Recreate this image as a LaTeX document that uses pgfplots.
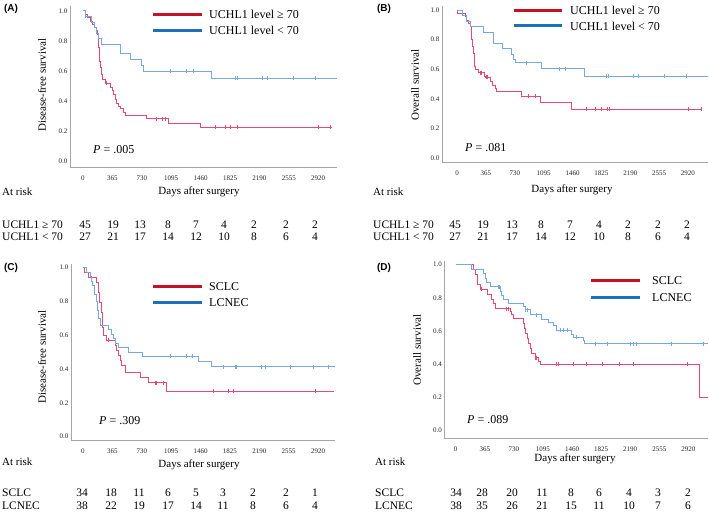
\documentclass[border=0pt]{standalone}
\usepackage{fontspec}
\setmainfont{Liberation Serif}
\newfontfamily\arial{Liberation Sans}
\usepackage{pgfplots}
\pgfplotsset{compat=1.18}

\definecolor{kmred}{RGB}{228,74,114}
\definecolor{kmblue}{RGB}{118,168,226}
\definecolor{legred}{RGB}{196,18,36}
\definecolor{legblue}{RGB}{30,112,186}

\pgfplotsset{
  km/.style={
    scale only axis,
    axis x line=bottom, axis y line=left,
    axis line style={-, gray!70, line width=0.6pt},
    major tick length=0pt,
    xtick={0,365,730,1095,1460,1825,2190,2555,2920},
    ytick={0,0.2,0.4,0.6,0.8,1.0},
    xticklabel style={/pgf/number format/1000 sep={}, yshift=-5pt},
    yticklabel style={/pgf/number format/fixed, /pgf/number format/fixed zerofill,
      /pgf/number format/precision=1, xshift=1pt},
    tick label style={font=\fontsize{7}{8}\selectfont, text=black!85},
    /pgf/number format/assume math mode=true,
    clip=false,
  },
  kmline/.style={const plot, line width=0.65pt, mark=none},
  cens/.style={only marks, mark=|, mark size=2pt, mark options={line width=0.5pt}},
}

\newcommand{\rowfont}{\fontsize{11.5}{13}\selectfont}
\newcommand{\lab}{\fontsize{11}{13}\selectfont}

\begin{document}
\begin{tikzpicture}[x=1pt,y=1pt]
\useasboundingbox (0,0) rectangle (709,514);

% ---------------- (A) disease-free survival, UCHL1
\begin{axis}[km, at={(70pt,347pt)}, anchor=south west, width=267pt, height=160.8pt,
  xmin=-161, xmax=3153, ymin=-0.035, ymax=1.03]
\addplot[kmline, kmred] coordinates {(0,1) (30,0.978) (60,0.956) (90,0.933) (115,0.911)
  (140,0.889) (160,0.867) (175,0.844) (185,0.8) (195,0.756) (200,0.711) (207,0.667)
  (215,0.622) (225,0.578) (235,0.545) (280,0.52) (335,0.495) (360,0.47) (377,0.445)
  (398,0.41) (420,0.385) (439,0.37) (460,0.355) (501,0.33) (522,0.31) (790,0.285)
  (1060,0.257) (1455,0.23) (3090,0.23)};
\addplot[cens, kmred] coordinates {(294,0.52) (915,0.285) (986,0.285) (1027,0.285)
  (1640,0.23) (1764,0.23) (1827,0.23) (1909,0.23) (1918,0.23) (2924,0.23) (3069,0.23)};
\addplot[kmline, kmblue] coordinates {(0,1) (25,0.963) (108,0.926) (141,0.889) (170,0.852)
  (190,0.815) (232,0.778) (460,0.717) (592,0.678) (729,0.64) (750,0.6) (1599,0.554)
  (3152,0.554)};
\addplot[cens, kmblue] coordinates {(30,0.963) (1081,0.6) (1288,0.6) (1363,0.6) (1889,0.554)
  (1909,0.554) (2220,0.554) (2282,0.554) (2605,0.554) (2883,0.554)};
\end{axis}

% ---------------- (B) overall survival, UCHL1
\begin{axis}[km, at={(442pt,352pt)}, anchor=south west, width=266pt, height=156.45pt,
  xmin=-190, xmax=3173, ymin=-0.025, ymax=1.03]
\addplot[kmline, kmred] coordinates {(0,1) (8,0.978) (100,0.956) (122,0.933) (143,0.911)
  (164,0.889) (175,0.844) (185,0.8) (195,0.756) (206,0.711) (215,0.667) (222,0.622)
  (228,0.6) (270,0.578) (340,0.556) (354,0.545) (417,0.52) (447,0.495) (480,0.47)
  (501,0.45) (817,0.42) (1049,0.38) (1441,0.33) (3093,0.33)};
\addplot[cens, kmred] coordinates {(290,0.578) (310,0.578) (365,0.545) (385,0.545)
  (902,0.42) (986,0.42) (1631,0.33) (1753,0.33) (1820,0.33) (1900,0.33) (1921,0.33)
  (2924,0.33) (3084,0.33)};
\addplot[kmline, kmblue] coordinates {(0,1) (67,0.963) (122,0.926) (164,0.889) (333,0.852)
  (459,0.778) (573,0.741) (691,0.704) (712,0.667) (733,0.645) (1070,0.605) (1610,0.555)
  (3177,0.555)};
\addplot[cens, kmblue] coordinates {(881,0.645) (1289,0.605) (1365,0.605) (1892,0.555)
  (1913,0.555) (2229,0.555) (2292,0.555) (2617,0.555) (2895,0.555)};
\end{axis}

% ---------------- (C) disease-free survival, histology
\begin{axis}[km, at={(71pt,73.9pt)}, anchor=south west, width=264pt, height=175.8pt,
  xmin=-149, xmax=3131, ymin=-0.02, ymax=1.02]
\addplot[kmline, kmred] coordinates {(0,1) (17,0.971) (66,0.941) (170,0.912) (185,0.882)
  (191,0.853) (198,0.824) (203,0.794) (225,0.765) (232,0.735) (238,0.706) (244,0.647)
  (253,0.6) (286,0.57) (398,0.54) (418,0.51) (439,0.48) (460,0.45) (480,0.42) (522,0.38)
  (708,0.35) (812,0.32) (1040,0.27) (3123,0.27)};
\addplot[cens, kmred] coordinates {(315,0.57) (895,0.32) (915,0.32) (998,0.32) (1619,0.27)
  (1806,0.27) (1868,0.27) (2883,0.27)};
\addplot[kmline, kmblue] coordinates {(0,1) (37,0.974) (87,0.947) (108,0.921) (120,0.895)
  (137,0.842) (170,0.8) (182,0.75) (195,0.7) (211,0.66) (315,0.635) (356,0.605) (377,0.58)
  (398,0.553) (439,0.53) (563,0.5) (741,0.475) (1433,0.445) (1599,0.415) (3131,0.415)};
\addplot[cens, kmblue] coordinates {(1081,0.475) (1288,0.475) (1363,0.475) (1744,0.415)
  (1889,0.415) (1909,0.415) (2220,0.415) (2261,0.415) (2580,0.415) (2862,0.415) (3048,0.415)};
\end{axis}

% ---------------- (D) overall survival, histology
\begin{axis}[km, at={(444.3pt,76pt)}, anchor=south west, width=263.7pt, height=176.6pt,
  xmin=-143, xmax=3167, ymin=-0.044, ymax=1.02]
\addplot[kmline, kmred] coordinates {(0,1) (222,0.971) (251,0.941) (270,0.912) (276,0.882)
  (305,0.853) (402,0.824) (452,0.794) (473,0.765) (494,0.735) (682,0.72) (695,0.70)
  (724,0.676) (849,0.645) (862,0.615) (879,0.585) (904,0.555) (912,0.525) (933,0.495)
  (954,0.465) (996,0.44) (1038,0.42) (1059,0.40) (3059,0.20) (3172,0.20)};
\addplot[cens, kmred] coordinates {(318,0.853) (640,0.735) (661,0.735) (1000,0.44) (1017,0.44)
  (1268,0.40) (1289,0.40) (1477,0.40) (1644,0.40) (1841,0.40) (2050,0.40) (2230,0.40)
  (2912,0.40)};
\addplot[kmline, kmblue] coordinates {(0,1) (201,0.974) (347,0.947) (377,0.921) (389,0.895)
  (431,0.868) (556,0.842) (569,0.816) (598,0.79) (661,0.77) (849,0.75) (870,0.73)
  (933,0.70) (1079,0.672) (1163,0.65) (1226,0.632) (1268,0.605) (1456,0.578) (1477,0.565)
  (1603,0.545) (1615,0.525) (3172,0.525)};
\addplot[cens, kmblue] coordinates {(536,0.868) (547,0.868) (879,0.73) (904,0.73) (1017,0.70)
  (1310,0.605) (1351,0.605) (1406,0.605) (1519,0.565) (1749,0.525) (1908,0.525) (2188,0.525)
  (2230,0.525) (2272,0.525) (2711,0.525) (3109,0.525)};
\end{axis}

% ---------------- panel letters
\node[font=\arial\bfseries\fontsize{10}{12}\selectfont] at (11,505) {(A)};
\node[font=\arial\bfseries\fontsize{10}{12}\selectfont] at (384,505) {(B)};
\node[font=\arial\bfseries\fontsize{10}{12}\selectfont] at (11,246) {(C)};
\node[font=\arial\bfseries\fontsize{10}{12}\selectfont] at (384,246) {(D)};

% ---------------- y labels
\node[font=\lab, rotate=90] at (42,429) {Disease-free survival};
\node[font=\lab, rotate=90] at (415,429) {Overall survival};
\node[font=\lab, rotate=90] at (42,157) {Disease-free survival};
\node[font=\lab, rotate=90] at (417,164) {Overall survival};

% ---------------- legends
\draw[legred, line width=3pt] (153,499.5) -- (202,499.5);
\draw[legblue, line width=3pt] (153,483.5) -- (202,483.5);
\node[font=\fontsize{12}{14}\selectfont, anchor=west, inner sep=0] at (209,499.5) {UCHL1 level ≥ 70};
\node[font=\fontsize{12}{14}\selectfont, anchor=west, inner sep=0] at (209,483.5) {UCHL1 level < 70};
\draw[legred, line width=3pt] (514,503.3) -- (562,503.3);
\draw[legblue, line width=3pt] (514,488) -- (562,488);
\node[font=\fontsize{12}{14}\selectfont, anchor=west, inner sep=0] at (570,503.3) {UCHL1 level ≥ 70};
\node[font=\fontsize{12}{14}\selectfont, anchor=west, inner sep=0] at (570,488) {UCHL1 level < 70};
\draw[legred, line width=3pt] (153,227.3) -- (202,227.3);
\draw[legblue, line width=3pt] (153,211.3) -- (202,211.3);
\node[font=\fontsize{12}{14}\selectfont, anchor=west, inner sep=0] at (209,227.3) {SCLC};
\node[font=\fontsize{12}{14}\selectfont, anchor=west, inner sep=0] at (209,211.3) {LCNEC};
\draw[legred, line width=3pt] (591,233) -- (640,233);
\draw[legblue, line width=3pt] (591,216.7) -- (640,216.7);
\node[font=\fontsize{12}{14}\selectfont, anchor=west, inner sep=0] at (652,233) {SCLC};
\node[font=\fontsize{12}{14}\selectfont, anchor=west, inner sep=0] at (652,216.7) {LCNEC};

% ---------------- p values
\node[font=\fontsize{12}{14}\selectfont, anchor=west, inner sep=0] at (93,364) {\textit{P} = .005};
\node[font=\fontsize{12}{14}\selectfont, anchor=west, inner sep=0] at (465,366) {\textit{P} = .081};
\node[font=\fontsize{12}{14}\selectfont, anchor=west, inner sep=0] at (99,93) {\textit{P} = .309};
\node[font=\fontsize{12}{14}\selectfont, anchor=west, inner sep=0] at (467,94) {\textit{P} = .089};

% ---------------- x labels and risk tables
\node[font=\lab] at (199,322) {Days after surgery};
\node[font=\lab] at (572,324) {Days after surgery};
\node[font=\lab] at (199,49) {Days after surgery};
\node[font=\lab] at (575,55) {Days after surgery};
\node[font=\lab, anchor=west, inner sep=0] at (2,322) {At risk};
\node[font=\lab, anchor=west, inner sep=0] at (373,322) {At risk};
\node[font=\lab, anchor=west, inner sep=0] at (2,52) {At risk};
\node[font=\lab, anchor=west, inner sep=0] at (375,52) {At risk};

\node[font=\rowfont, anchor=west, inner sep=0] at (2,289) {UCHL1 ≥ 70};
\node[font=\rowfont, anchor=west, inner sep=0] at (2,277) {UCHL1 < 70};
\node[font=\rowfont, anchor=west, inner sep=0] at (373,289) {UCHL1 ≥ 70};
\node[font=\rowfont, anchor=west, inner sep=0] at (373,277) {UCHL1 < 70};
\node[font=\rowfont, anchor=west, inner sep=0] at (2,21) {SCLC};
\node[font=\rowfont, anchor=west, inner sep=0] at (2,8) {LCNEC};
\node[font=\rowfont, anchor=west, inner sep=0] at (375,21) {SCLC};
\node[font=\rowfont, anchor=west, inner sep=0] at (375,8) {LCNEC};

\foreach \x/\a/\b in {85/45/27, 113/19/21, 140/13/17, 168/8/14, 196/7/12, 224/4/10,
    254/2/8, 286/2/6, 315/2/4} {
  \node[font=\rowfont] at (\x,289) {\a};
  \node[font=\rowfont] at (\x,277) {\b};
}
\foreach \x/\a/\b in {455/45/27, 483/19/21, 512/13/17, 541/8/14, 570/7/12, 599/4/10,
    628/2/8, 658/2/6, 687/2/4} {
  \node[font=\rowfont] at (\x,289) {\a};
  \node[font=\rowfont] at (\x,277) {\b};
}
\foreach \x/\a/\b in {82/34/38, 111/18/22, 139/11/19, 168/6/17, 196/5/14, 223/3/11,
    253/2/8, 286/2/6, 315/1/4} {
  \node[font=\rowfont] at (\x,21) {\a};
  \node[font=\rowfont] at (\x,8) {\b};
}
\foreach \x/\a/\b in {456/34/38, 482/28/35, 512/20/26, 542/11/21, 571/8/15, 599/6/11,
    629/4/10, 658/3/7, 688/2/6} {
  \node[font=\rowfont] at (\x,21) {\a};
  \node[font=\rowfont] at (\x,8) {\b};
}
\end{tikzpicture}
\end{document}
